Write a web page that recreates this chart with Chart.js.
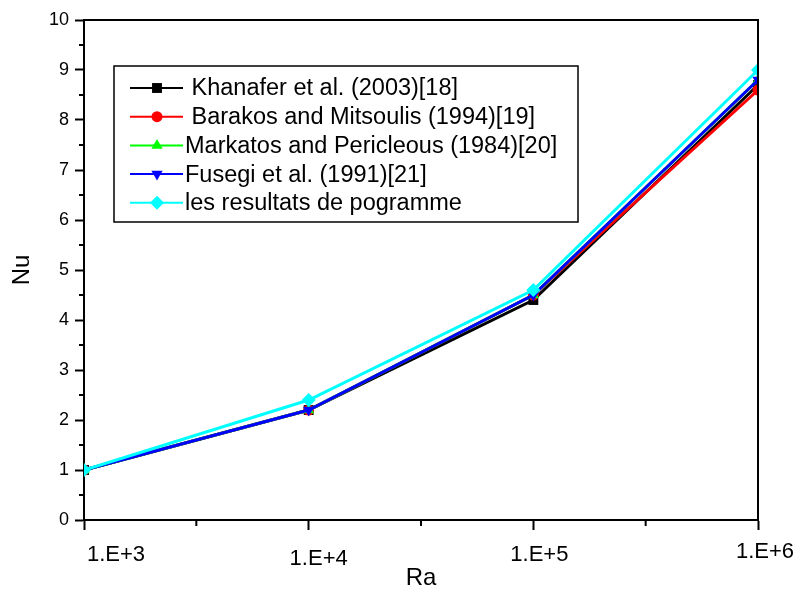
<!DOCTYPE html>
<html>
<head>
<meta charset="utf-8">
<script src="https://cdn.jsdelivr.net/npm/chart.js@4/dist/chart.umd.min.js"></script>
<style>
  html, body { margin: 0; padding: 0; background: #fff; }
</style>
</head>
<body>
<canvas id="c" width="797" height="597"></canvas>
<script>
const RA = [1e3, 1e4, 1e5, 1e6]
const X_TICKS = ['1.E+3', '1.E+4', '1.E+5', '1.E+6']
const Y_TICKS = [0, 1, 2, 3, 4, 5, 6, 7, 8, 9, 10]

const NU_KHANAFER  = [1.0, 2.2, 4.4, 8.7]
const NU_BARAKOS   = [1.0, 2.2, 4.5, 8.6]
const NU_MARKATOS  = [1.0, 2.2, 4.5, 8.8]
const NU_FUSEGI    = [1.0, 2.2, 4.5, 8.8]
const NU_PROGRAMME = [1.0, 2.4, 4.6, 9.0]

const LABELS = [
  ' Khanafer et al. (2003)[18]',
  ' Barakos and Mitsoulis (1994)[19]',
  'Markatos and Pericleous (1984)[20]',
  'Fusegi et al. (1991)[21]',
  'les resultats de pogramme'
]

const FONT = "'Liberation Sans', Arial, sans-serif"

// x tick labels are drawn by hand: the original has them nudged off-centre
const LABEL_DX = [32, 10, 6, 7]
const LABEL_DY = [0, 4, 0, -3]

const pts = arr => RA.map((x, i) => ({ x, y: arr[i] }))

function DS (label, data, color, pointStyle, radius, order, rotation = 0) {
  return {
    label, data: pts(data), borderColor: color, backgroundColor: color,
    borderWidth: 3, pointStyle, pointRadius: radius, pointRotation: rotation,
    pointBorderWidth: 0, pointHoverRadius: radius, order, clip: 0, tension: 0
  }
}

function drawMarker (ctx, ds, x, y) {
  ctx.fillStyle = ds.backgroundColor
  ctx.strokeStyle = ds.borderColor
  Chart.helpers.drawPoint(ctx, { pointStyle: ds.pointStyle, rotation: ds.pointRotation, radius: ds.pointRadius, borderWidth: 0 }, x, y)
}

const framePlugin = {
  id: 'frame',
  afterDraw (chart) {
    const { ctx, chartArea: a, scales: { x, y } } = chart
    ctx.save()
    ctx.strokeStyle = '#000'
    ctx.lineWidth = 2
    ctx.beginPath()
    ctx.moveTo(a.left - 1, a.top); ctx.lineTo(a.right, a.top); ctx.lineTo(a.right, a.bottom)
    ctx.stroke()

    // minor ticks
    ctx.beginPath()
    for (let i = 0; i < Y_TICKS.length - 1; i++) {
      const py = y.getPixelForValue((Y_TICKS[i] + Y_TICKS[i + 1]) / 2)
      ctx.moveTo(a.left - 5, py); ctx.lineTo(a.left, py)
    }
    for (let i = 0; i < RA.length - 1; i++) {
      const px = x.getPixelForValue(Math.sqrt(RA[i] * RA[i + 1]))
      ctx.moveTo(px, a.bottom); ctx.lineTo(px, a.bottom + 6)
    }
    ctx.stroke()

    // x tick labels
    ctx.fillStyle = '#000'
    ctx.font = '22px ' + FONT
    ctx.textAlign = 'center'
    ctx.textBaseline = 'middle'
    X_TICKS.forEach((t, i) => {
      ctx.fillText(t, x.getPixelForValue(RA[i]) + LABEL_DX[i], a.bottom + 35 + LABEL_DY[i])
    })

    // legend box
    const lx = 114, ly = 66, lw = 464, lh = 156, rowH = 28.7
    ctx.lineWidth = 1.5
    ctx.strokeRect(lx, ly, lw, lh)
    ctx.font = '23.5px ' + FONT
    ctx.textAlign = 'left'
    chart.data.datasets.forEach((ds, i) => {
      const ry = ly + 22 + i * rowH
      ctx.strokeStyle = ds.borderColor
      ctx.lineWidth = 2
      ctx.beginPath(); ctx.moveTo(130, ry); ctx.lineTo(183, ry); ctx.stroke()
      drawMarker(ctx, ds, 157, ry)
      ctx.fillStyle = '#000'
      ctx.fillText(ds.label, 185, ry + 1)
    })
    ctx.restore()
  }
}

new Chart(document.getElementById('c'), {
  type: 'line',
  data: {
    datasets: [
      DS(LABELS[0], NU_KHANAFER, '#000000', 'rect', 7, 5),
      DS(LABELS[1], NU_BARAKOS, '#ff0000', 'circle', 5.5, 4),
      DS(LABELS[2], NU_MARKATOS, '#00ff00', 'triangle', 6.5, 3),
      DS(LABELS[3], NU_FUSEGI, '#0000ff', 'triangle', 6.5, 2, 180),
      DS(LABELS[4], NU_PROGRAMME, '#00ffff', 'rectRot', 7, 1)
    ]
  },
  options: {
    responsive: false, animation: false,
    layout: { padding: { top: 20, right: 39, bottom: 0, left: 0 } },
    plugins: { legend: { display: false }, tooltip: { enabled: false } },
    scales: {
      x: {
        type: 'logarithmic', min: RA[0], max: RA[RA.length - 1],
        afterBuildTicks: s => { s.ticks = RA.map(v => ({ value: v })) },
        afterFit: s => { s.height = 77 },
        ticks: { display: false },
        grid: { drawOnChartArea: false, tickLength: 10, tickColor: '#000', tickWidth: 2 },
        border: { color: '#000', width: 2 },
        title: { display: true, text: 'Ra', color: '#000', font: { size: 24, family: FONT }, padding: { top: 0, bottom: 4 } }
      },
      y: {
        min: 0, max: 10,
        afterBuildTicks: s => { s.ticks = Y_TICKS.map(v => ({ value: v })) },
        afterFit: s => { s.width = 84 },
        ticks: { color: '#000', font: { size: 18, family: FONT }, padding: 6 },
        grid: { drawOnChartArea: false, tickLength: 9, tickColor: '#000', tickWidth: 2 },
        border: { color: '#000', width: 2 },
        title: { display: true, text: 'Nu', color: '#000', font: { size: 24, family: FONT }, padding: { top: 8, bottom: 0 } }
      }
    }
  },
  plugins: [framePlugin]
})
</script>
</body>
</html>
